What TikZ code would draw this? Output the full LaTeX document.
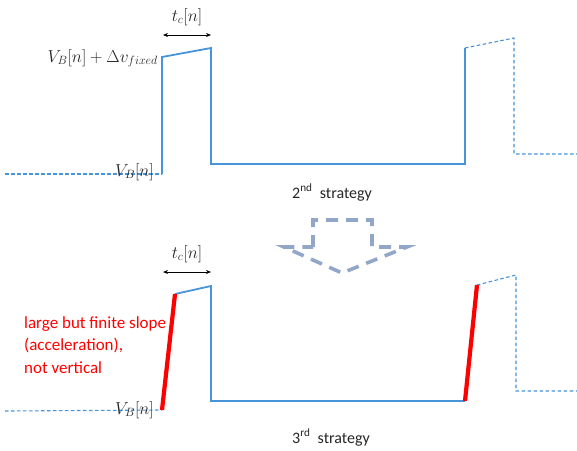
\documentclass[tikz,border=0pt]{standalone}
\usepackage{fontspec}
\setmainfont{Carlito}
\usetikzlibrary{arrows.meta}
\definecolor{wave}{RGB}{72,148,216}
\definecolor{arrowgray}{RGB}{146,166,200}
\definecolor{slopered}{RGB}{255,0,0}
\definecolor{txtgray}{RGB}{38,38,38}
\begin{document}
\begin{tikzpicture}[x=1pt,y=-1pt,
  wavesolid/.style={draw=wave,line width=1.8pt,line join=miter},
  wavedash/.style={draw=wave,line width=1.1pt,dash pattern=on 3.5pt off 2.5pt},
  redslope/.style={draw=slopered,line width=4.2pt},
  tcarrow/.style={draw=black,line width=0.7pt,{Stealth[length=5pt,width=4pt]}-{Stealth[length=5pt,width=4pt]}},
  mathlbl/.style={font=\fontsize{16.5}{19}\selectfont,inner sep=0pt,text=txtgray},
  strat/.style={font=\fontsize{16}{19}\selectfont,inner sep=0pt,anchor=base west,text=txtgray},
  redtxt/.style={font=\fontsize{17}{22.5}\selectfont,text=slopered,inner sep=0pt,anchor=north west,align=left},
  blockarrow/.style={draw=arrowgray,line width=3.6pt,dash pattern=on 12pt off 8pt}]
\useasboundingbox (0,0) rectangle (577,450);
% ---------- top waveform (2nd strategy) ----------
\coordinate (a0) at (5,174);
\coordinate (a1) at (162,174);
\coordinate (a2) at (162,57);
\coordinate (a3) at (211,48);
\coordinate (a4) at (211,164);
\coordinate (a5) at (465,164);
\coordinate (a6) at (465,48);
\coordinate (a7) at (514,38);
\coordinate (a8) at (514,154);
\coordinate (a9) at (577,154);
\draw[wavedash] (a0) -- (a1);
\draw[wavesolid] (a1) -- (a2) -- (a3) -- (a4) -- (a5) -- (a6);
\draw[wavedash] (a6) -- (a7) -- (a8) -- (a9);
\coordinate (ta) at (163,35);
\coordinate (tb) at (211,35);
\draw[tcarrow] (ta) -- (tb);
\node[mathlbl] (tc1) at (187,17) {$t_c[n]$};
\node[mathlbl,anchor=east,font=\fontsize{17.5}{20}\selectfont] (vfix) at (158,58) {$V_B[n]+\Delta v_{fixed}$};
\node[mathlbl,anchor=east] (vb1) at (154,172) {$V_B[n]$};
\node[strat] (s2) at (292,198) {2\textsuperscript{nd}\ \ strategy};
% ---------- block arrow ----------
\coordinate (p1) at (313,220);
\coordinate (p2) at (372,220);
\coordinate (p3) at (372,247);
\coordinate (p4) at (407,247);
\coordinate (p5) at (342,273);
\coordinate (p6) at (284,247);
\coordinate (p7) at (313,247);
\draw[blockarrow] (p7) -- (p1) -- (p2) -- (p3) -- (p4) -- (p5) -- (p6) -- cycle;
% ---------- bottom waveform (3rd strategy) ----------
\coordinate (b0) at (5,411);
\coordinate (b1) at (162,410);
\coordinate (b2) at (175,294);
\coordinate (b3) at (211,286);
\coordinate (b4) at (211,401);
\coordinate (b5) at (465,401);
\coordinate (b6) at (477,285);
\coordinate (b7) at (516,275);
\coordinate (b8) at (516,391);
\coordinate (b9) at (577,391);
\draw[wavedash] (b0) -- (b1);
\draw[wavesolid] (b2) -- (b3) -- (b4) -- (b5);
\draw[wavedash] (b6) -- (b7) -- (b8) -- (b9);
\draw[redslope] (b1) -- (b2);
\draw[redslope] (b5) -- (b6);
\coordinate (tc) at (163,272);
\coordinate (td) at (211,272);
\draw[tcarrow] (tc) -- (td);
\node[mathlbl] (tc2) at (187,254) {$t_c[n]$};
\node[mathlbl,anchor=east] (vb2) at (154,410) {$V_B[n]$};
\node[redtxt] (note) at (24,316) {large but finite slope\\(acceleration),\\not vertical};
\node[strat] (s3) at (292,443) {3\textsuperscript{rd}\ \ strategy};
\end{tikzpicture}
\end{document}
